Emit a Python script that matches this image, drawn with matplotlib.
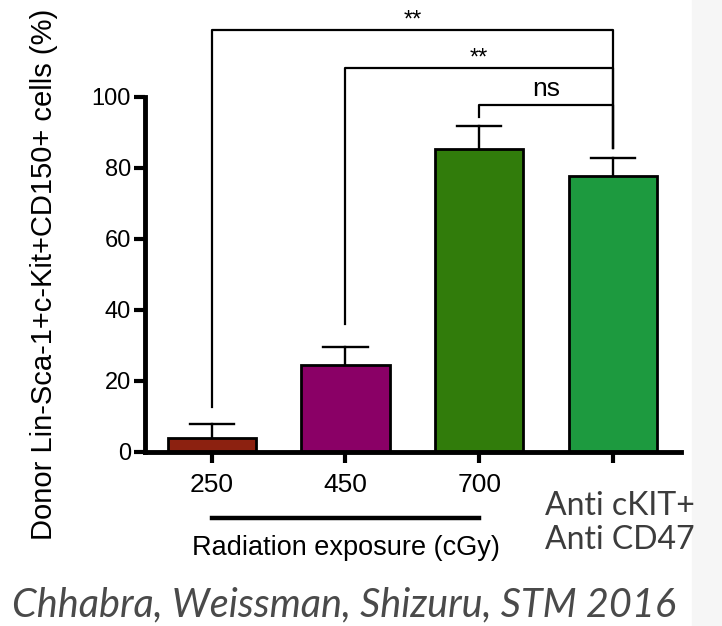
import matplotlib.pyplot as plt
from matplotlib.patches import Rectangle
import matplotlib.transforms as mtransforms

# data
groups = ["250", "450", "700", "Anti cKIT+\nAnti CD47"]
values = [4.0, 24.4, 85.4, 77.7]
errors = [3.9, 5.2, 6.4, 5.1]
colors = ["#8c2110", "#8a0066", "#317c0b", "#1d9a3f"]

# significance brackets: (left group, right group, height, left leg end, right leg end, label)
brackets = [
    (0, 3, 118.9, 12.8, 85.6, "**"),
    (1, 3, 108.2, 36.1, 85.6, "**"),
    (2, 3, 97.7, 94.4, 85.6, "ns"),
]

plt.rcParams['font.family'] = ['Liberation Sans', 'DejaVu Sans']

fig = plt.figure(figsize=(7.22, 6.26), dpi=100)
fig.patches.append(Rectangle((692 / 722, 0), 30 / 722, 1, transform=fig.transFigure,
                             color="#f6f6f6", zorder=-10))
ax = fig.add_axes([145 / 722, 174 / 626, 536 / 722, 452 / 626])
ax.patch.set_alpha(0)

x = list(range(len(groups)))
ax.bar(x, values, width=0.66, color=colors, edgecolor="black", linewidth=2, zorder=2)
for xi, v, e in zip(x, values, errors):
    ax.plot([xi, xi], [v, v + e], color="black", lw=1.7, zorder=1)
    ax.plot([xi - 0.165, xi + 0.165], [v + e, v + e], color="black", lw=1.7, zorder=1)

for a, b, h, la, lb, lab in brackets:
    ax.plot([a, a, b, b], [la, h, h, lb], color="black", lw=1.6, clip_on=False)
    if lab == "ns":
        ax.text((a + b) / 2, h + 2.6, lab, ha="center", va="baseline", fontsize=19)
    else:
        ax.text((a + b) / 2, h + 0.8, lab, ha="center", va="baseline", fontsize=17)

ax.set_xlim(-0.5, 3.51)
ax.set_ylim(0, 127.3)
ax.spines[["top", "right"]].set_visible(False)
ax.spines["left"].set_bounds(0, 100)
ax.spines["left"].set_linewidth(3.5)
ax.spines["bottom"].set_linewidth(3.5)
ax.set_yticks([0, 20, 40, 60, 80, 100])
ax.tick_params(axis="y", length=8, width=3, labelsize=17, pad=2)
ax.set_xticks(x)
ax.set_xticklabels(["250", "450", "700", ""])
ax.tick_params(axis="x", length=8, width=3, labelsize=19, pad=7)

ax.set_ylabel("Donor Lin-Sca-1+c-Kit+CD150+ cells (%)", fontsize=21)
ax.yaxis.set_label_coords(-0.162, 0.392)

trans = mtransforms.blended_transform_factory(ax.transData, fig.transFigure)
ax.plot([0, 2], [1 - 518 / 626] * 2, color="black", lw=3.2, transform=trans, clip_on=False)
ax.text(1, 1 - 548 / 626, "Radiation exposure (cGy)", ha="center", va="center",
        fontsize=19.5, transform=trans)
for line, yp in zip(groups[3].split("\n"), [506, 540]):
    ax.text(3.05, 1 - yp / 626, line, ha="center", va="center", fontsize=23,
            family=["Lato", "DejaVu Sans"], color="#3c3c3c", transform=trans)

fig.text(0.016, 1 - 616 / 626, "Chhabra, Weissman, Shizuru, STM 2016", ha="left", va="baseline",
         fontsize=28.5, style="italic", family=["Lato", "DejaVu Sans"],
         color="#4a4a4a")

fig.savefig("out.png", dpi=100)
